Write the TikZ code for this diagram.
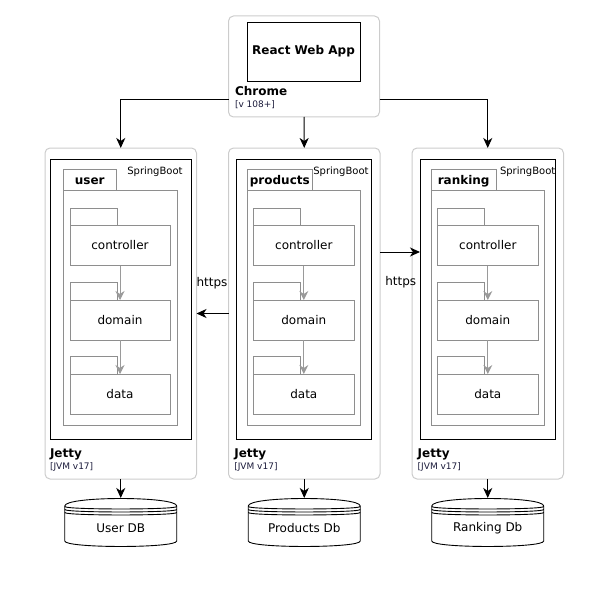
\documentclass[tikz,border=0pt]{standalone}
\usepackage{fontspec}
\setmainfont{DejaVu Sans}
\usetikzlibrary{arrows.meta,calc}
\definecolor{outerc}{HTML}{CCCCCC}
\definecolor{pkgc}{HTML}{8E8E8E}
\definecolor{arrg}{HTML}{9A9A9A}
\definecolor{navy}{HTML}{1A1A3A}
\newcommand\myrect[7]{\node[#1,inner sep=0pt,outer sep=0pt,anchor=north west,minimum width={((#5)-(#3))*1pt},minimum height={((#6)-(#4))*1pt}] (#2) at (#3,#4) {#7};}
\newcommand\mydb[4]{%
  \draw[dbline] (#1,506) .. controls (#1,496) and (#2,496) .. (#2,506) -- (#2,541) .. controls (#2,548.3) and (#1,548.3) .. (#1,541) -- cycle;
  \draw[dbline] (#1,506.5) .. controls (#1,509.8) and (#2,509.8) .. (#2,506.5);
  \draw[dbline] (#1,509.5) .. controls (#1,512.8) and (#2,512.8) .. (#2,509.5);
  \draw[dbline] (#1,512.5) .. controls (#1,515.8) and (#2,515.8) .. (#2,512.5);
  \myrect{}{#3}{#1}{498}{#2}{546.5}{}
  \node[lbl] (#3-t) at ($(#3.north)+(0,30)$) {#4};}
\begin{document}
\begin{tikzpicture}[x=1pt,y=-1pt,
  outer/.style={draw=outerc, line width=1pt, rounded corners=5pt},
  blk/.style={draw=black, line width=0.9pt},
  pkg/.style={draw=pkgc, line width=0.9pt},
  dbline/.style={draw=black, line width=0.9pt},
  arr/.style={draw=black, line width=1pt, -{Stealth[length=10pt,width=9pt,inset=3pt]}},
  garr/.style={draw=arrg, line width=1pt, -{Stealth[length=9pt,width=9pt,inset=3pt,fill=arrg]}},
  lbl/.style={inner sep=0pt, outer sep=0pt, font=\fontsize{12}{14}\selectfont},
  blbl/.style={inner sep=0pt, outer sep=0pt, font=\fontsize{12}{14}\selectfont\bfseries},
  small/.style={inner sep=0pt, outer sep=0pt, text=navy, font=\fontsize{9}{11}\selectfont},
  stereo/.style={inner sep=0pt, outer sep=0pt, font=\fontsize{10}{12}\selectfont}
]
\useasboundingbox (0,0) rectangle (615,607);
% Chrome
\myrect{outer}{chrome}{228.5}{16}{379.5}{117}{}
\myrect{blk}{react}{247}{22}{360}{81}{}
\node[blbl] (reacttxt) at (react.center) {React Web App};
\node[blbl, anchor=base west] (chrometxt) at (235,95.5) {Chrome};
\node[small, anchor=base west] (chromever) at (235,107.5) {[v 108+]};
% columns
\foreach \n/\ox/\il/\ir/\tl/\tr/\br/\cl/\ctr/\cr/\sx/\jx in {
  user/45/50/191.5/63/116.5/177/70/117/170/127.3/50,
  products/228.5/236.5/371.5/247.3/312.3/360/253.3/300.3/354.3/313.3/234.3,
  ranking/412/420/555.7/431.3/496/544.3/437.3/484.3/538.3/500/417.7}{
  \myrect{outer}{\n-out}{\ox}{148}{\ox+151.5}{479}{}
  \myrect{blk}{\n-sb}{\il}{159}{\ir}{439}{}
  \node[stereo, anchor=base west] (\n-st) at (\sx,174) {SpringBoot};
  \myrect{pkg}{\n-tab}{\tl}{169}{\tr}{190.5}{}
  \myrect{pkg}{\n-pkg}{\tl}{190.5}{\br}{425}{}
  \node[blbl, anchor=base] (\n-title) at ({(\tl+\tr)/2},184.5) {\n};
  \foreach \k/\yy/\lab in {c/208/controller, d/282.5/domain, a/356.5/data}{
    \myrect{pkg}{\n-\k-tab}{\cl}{\yy}{\ctr}{\yy+17.5}{}
    \myrect{pkg}{\n-\k}{\cl}{\yy+17.5}{\cr}{\yy+57.5}{}
    \node[lbl] (\n-\k-txt) at (\n-\k.center) {\lab};
  }
  \draw[garr] (\n-c.south) -- (\n-d.north);
  \draw[garr] (\n-d.south) -- (\n-a.north);
  \node[blbl, anchor=base west] (\n-jetty) at (\jx,457.5) {Jetty};
  \node[small, anchor=base west] (\n-jvm) at (\jx,469.5) {[JVM v17]};
}
% databases
\mydb{64.75}{176.75}{userdb}{User DB}
\mydb{248.25}{360.25}{proddb}{Products Db}
\mydb{431.75}{543.75}{rankdb}{Ranking Db}
% connectors
\draw[arr] ([yshift=17pt]chrome.south west) -| (user-out.north);
\draw[arr] ([yshift=17pt]chrome.south east) -| (ranking-out.north);
\draw[arr] (chrome.south) -- (products-out.north);
\draw[arr] (products-out.west) -- (products-out.west -| user-out.east);
\node[lbl] (https1) at (212,283) {https};
\draw[arr] ([yshift=61.5pt]products-out.east) -- ([yshift=61.5pt]products-out.east -| ranking-sb.west);
\node[lbl] (https2) at (400.7,282) {https};
\draw[arr] (user-out.south) -- (userdb.north);
\draw[arr] (products-out.south) -- (proddb.north);
\draw[arr] (ranking-out.south) -- (rankdb.north);
\end{tikzpicture}
\end{document}
